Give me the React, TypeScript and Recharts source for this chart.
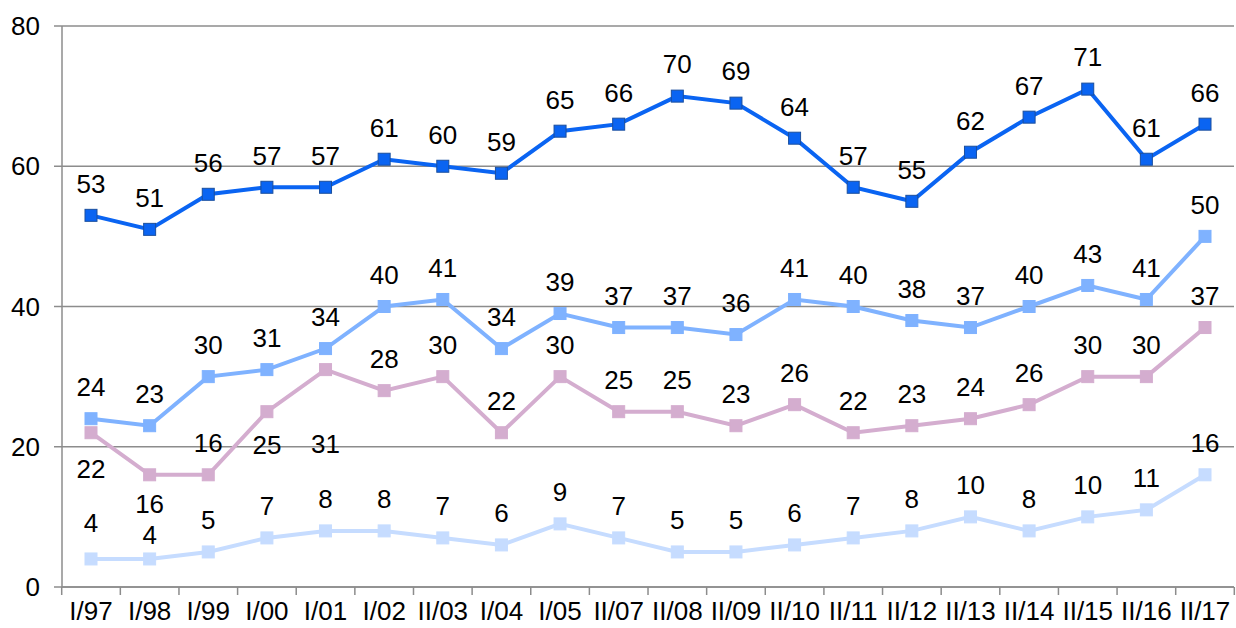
import { LineChart, Line, XAxis, YAxis, CartesianGrid, LabelList } from 'recharts'

const periods = ['I/97', 'I/98', 'I/99', 'I/00', 'I/01', 'I/02', 'II/03', 'I/04', 'I/05', 'II/07', 'II/08', 'II/09', 'II/10', 'II/11', 'II/12', 'II/13', 'II/14', 'II/15', 'II/16', 'II/17']
const seriesA = [53, 51, 56, 57, 57, 61, 60, 59, 65, 66, 70, 69, 64, 57, 55, 62, 67, 71, 61, 66]
const seriesB = [24, 23, 30, 31, 34, 40, 41, 34, 39, 37, 37, 36, 41, 40, 38, 37, 40, 43, 41, 50]
const seriesC = [22, 16, 16, 25, 31, 28, 30, 22, 30, 25, 25, 23, 26, 22, 23, 24, 26, 30, 30, 37]
const seriesD = [4, 4, 5, 7, 8, 8, 7, 6, 9, 7, 5, 5, 6, 7, 8, 10, 8, 10, 11, 16]
const yTicks = [0, 20, 40, 60, 80]

const data = periods.map((p, i) => ({ p, a: seriesA[i], b: seriesB[i], c: seriesC[i], d: seriesD[i] }))

const FONT = '"Liberation Sans", Arial, sans-serif'
const FS = 26
const PLOT_BOTTOM = 587
const AXIS = '#8c8c8c'

// label shifts (px from the point), default is above
const pinkShift: Record<number, number> = { 0: 36, 1: 29, 3: 33, 4: 74 }
const paleShift: Record<number, number> = { 0: -36, 1: -24 }

const makeLabel = (shift: Record<number, number>) => (props: any) => {
  const { x, y, value, index } = props
  const dy = shift[index] !== undefined ? shift[index] : -32
  return (
    <text x={x} y={y + dy} dy="0.36em" textAnchor="middle" fontSize={FS} fontFamily={FONT} fill="#000">
      {value}
    </text>
  )
}

const Square = (fill: string, stroke: string) => (props: any) => {
  const { cx, cy, index } = props
  return <rect key={index} x={cx - 6} y={cy - 6} width={12} height={12} fill={fill} stroke={stroke} strokeWidth={1} />
}

const XTick = (props: any) => {
  const { x, payload, index, width } = props
  const band = width / periods.length
  return (
    <g>
      <line x1={x - band / 2} x2={x - band / 2} y1={PLOT_BOTTOM} y2={PLOT_BOTTOM + 8} stroke={AXIS} strokeWidth={1.5} />
      {index === periods.length - 1 && (
        <line x1={x + band / 2} x2={x + band / 2} y1={PLOT_BOTTOM} y2={PLOT_BOTTOM + 8} stroke={AXIS} strokeWidth={1.5} />
      )}
      <text x={x} y={PLOT_BOTTOM + 33} textAnchor="middle" fontSize={FS} fontFamily={FONT} fill="#000">
        {payload.value}
      </text>
    </g>
  )
}

export default function App() {
  return (
    <div style={{ position: 'fixed', left: 0, top: 0, width: 1236, height: 628, background: '#fff' }}>
      <LineChart width={1236} height={628} data={data} margin={{ top: 26, right: 2, bottom: 0, left: 0 }}>
        <CartesianGrid vertical={false} stroke={AXIS} strokeWidth={1.5} />
        <XAxis
          dataKey="p"
          height={41}
          interval={0}
          padding={{ left: 29, right: 29 }}
          tickLine={false}
          axisLine={{ stroke: AXIS, strokeWidth: 1.5 }}
          tick={<XTick />}
        />
        <YAxis
          width={62}
          domain={[0, 80]}
          ticks={yTicks}
          interval={0}
          tickSize={8}
          tickMargin={14}
          tickLine={{ stroke: AXIS, strokeWidth: 1.5 }}
          axisLine={{ stroke: AXIS, strokeWidth: 1.5 }}
          tick={{ fontSize: FS, fontFamily: FONT, fill: '#000' }}
        />
        <Line dataKey="d" stroke="#c6dcff" strokeWidth={4} dot={Square('#c6dcff', '#c6dcff')} isAnimationActive={false}>
          <LabelList dataKey="d" content={makeLabel(paleShift)} />
        </Line>
        <Line dataKey="c" stroke="#d4adcf" strokeWidth={4} dot={Square('#d4adcf', '#d4adcf')} isAnimationActive={false}>
          <LabelList dataKey="c" content={makeLabel(pinkShift)} />
        </Line>
        <Line dataKey="b" stroke="#7fb2ff" strokeWidth={4} dot={Square('#7fb2ff', '#7fb2ff')} isAnimationActive={false}>
          <LabelList dataKey="b" content={makeLabel({})} />
        </Line>
        <Line dataKey="a" stroke="#0a64f2" strokeWidth={4} dot={Square('#0a64f2', '#1b4f9e')} isAnimationActive={false}>
          <LabelList dataKey="a" content={makeLabel({})} />
        </Line>
      </LineChart>
    </div>
  )
}
